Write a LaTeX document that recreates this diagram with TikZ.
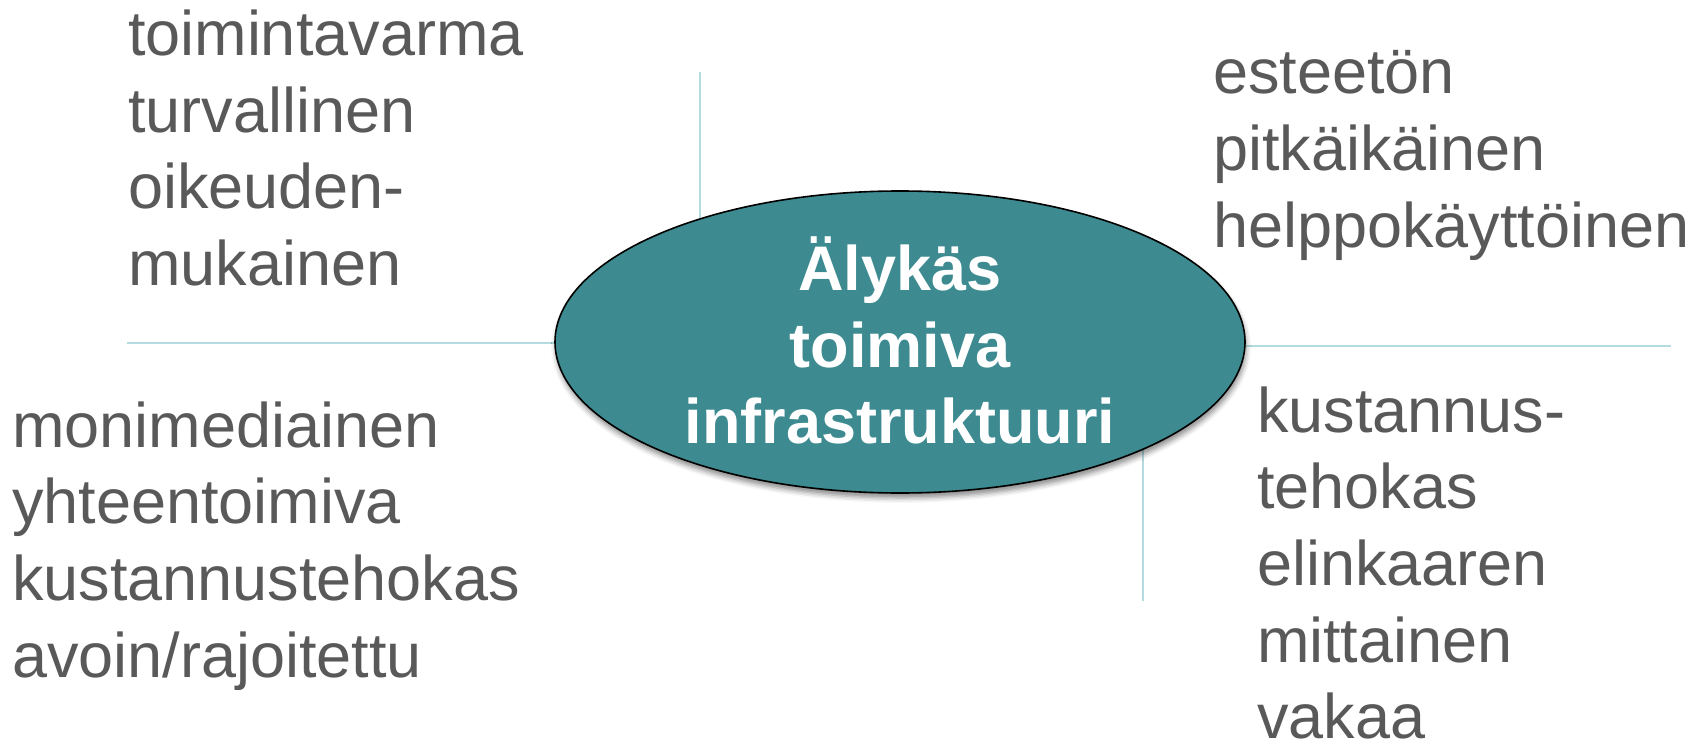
\documentclass[tikz,border=0pt]{standalone}
\usepackage{fontspec}
\setmainfont{Liberation Sans}
\usetikzlibrary{shapes.geometric,shadows.blur}
\definecolor{teal}{HTML}{3D8B91}
\definecolor{txtgray}{HTML}{595959}
\definecolor{linecol}{HTML}{B4DCE0}
\pgfdeclarelayer{bg}
\pgfsetlayers{bg,main}
\tikzset{
  lbl/.style={anchor=base west, inner sep=0pt, outer sep=0pt, text=txtgray,
    font=\fontsize{31.5pt}{38pt}\selectfont},
  ctr/.style={anchor=base, inner sep=0pt, outer sep=0pt, text=white,
    font=\fontsize{31.5pt}{38pt}\selectfont\bfseries},
  hub/.style={ellipse, draw=black, line width=0.8pt, fill=teal,
    minimum width=345pt, minimum height=151pt, inner sep=0pt, outer sep=0pt,
    blur shadow={shadow xshift=0.6pt, shadow yshift=-2.5pt, shadow blur radius=2.5pt, shadow opacity=45}},
  spoke/.style={draw=linecol, line width=1pt}
}
\begin{document}
\begin{tikzpicture}[x=0.5pt,y=-0.5pt]
\useasboundingbox (0,0) rectangle (1707,744);
% free ends of the spokes
\coordinate (ptop) at (700,72);
\coordinate (pleft) at (127,343);
\coordinate (pright) at (1671,346);
\coordinate (pbot) at (1143,601);
% hub
\node[hub] (ell) at (900,342) {};
% spokes (behind the hub, ending at its border)
\begin{pgfonlayer}{bg}
\draw[spoke] (ptop) -- (ptop |- ell.center);
\draw[spoke] (pleft) -- (pleft -| ell.center);
\draw[spoke] (pright) -- (pright -| ell.center);
\draw[spoke] (pbot) -- (pbot |- ell.center);
\end{pgfonlayer}
% centre text
\node[ctr] (c1) at (900,290) {Älykäs};
\node[ctr] (c2) at (900,367) {toimiva};
\node[ctr] (c3) at (900,443) {infrastruktuuri};
% top-left
\node[lbl] (tl1) at (128,55) {toimintavarma};
\node[lbl] (tl2) at (128,132) {turvallinen};
\node[lbl] (tl3) at (128,208) {oikeuden-};
\node[lbl] (tl4) at (128,285) {mukainen};
% bottom-left
\node[lbl] (bl1) at (12,447) {monimediainen};
\node[lbl] (bl2) at (12,523) {yhteentoimiva};
\node[lbl] (bl3) at (12,600) {kustannustehokas};
\node[lbl] (bl4) at (12,677) {avoin/rajoitettu};
% top-right
\node[lbl] (tr1) at (1213,93) {esteetön};
\node[lbl] (tr2) at (1213,170) {pitkäikäinen};
\node[lbl] (tr3) at (1213,247) {helppokäyttöinen};
% bottom-right
\node[lbl] (br1) at (1257,432) {kustannus-};
\node[lbl] (br2) at (1257,508) {tehokas};
\node[lbl] (br3) at (1257,585) {elinkaaren};
\node[lbl] (br4) at (1257,662) {mittainen};
\node[lbl] (br5) at (1257,738) {vakaa};
\end{tikzpicture}
\end{document}
